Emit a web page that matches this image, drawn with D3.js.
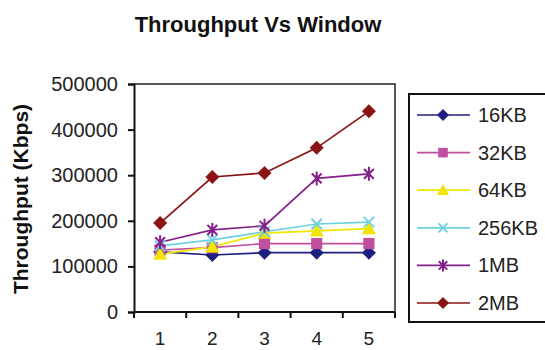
<!DOCTYPE html>
<html>
<head>
<meta charset="utf-8">
<script src="https://cdn.jsdelivr.net/npm/d3@7/dist/d3.min.js"></script>
<style>
  html, body { margin: 0; padding: 0; background: #fff; }
  svg { display: block; font-family: "Liberation Sans", Arial, sans-serif; }
</style>
</head>
<body>
<svg id="chart" width="545" height="350"></svg>
<script>
// Window sizes on the x axis
const windows = ["1", "2", "3", "4", "5"];
// Throughput (Kbps) for each buffer size
const kb16  = [132000, 125000, 130000, 130000, 130000];
const kb32  = [136000, 141000, 150000, 150000, 150000];
const kb64  = [127000, 143000, 173000, 178000, 183000];
const kb256 = [145000, 158000, 176000, 193000, 197000];
const mb1   = [153000, 180000, 189000, 293000, 303000];
const mb2   = [195000, 296000, 305000, 360000, 440000];
const seriesNames = ["16KB", "32KB", "64KB", "256KB", "1MB", "2MB"];
const yTicks = [0, 100000, 200000, 300000, 400000, 500000];

const seriesValues = [kb16, kb32, kb64, kb256, mb1, mb2];
const colors = ["#1f1f7f", "#c04fa0", "#f2e600", "#6cd0e0", "#84208a", "#8a1414"];
const markers = ["diamond", "square", "triangle", "cross", "star", "diamond"];

const svg = d3.select("#chart");

const x = d3.scaleBand().domain(windows).range([134, 395]);
const y = d3.scaleLinear().domain([0, 500000]).range([312, 84]);

// Title
svg.append("text")
  .attr("x", 258).attr("y", 32)
  .attr("text-anchor", "middle")
  .attr("font-size", 22).attr("font-weight", "bold")
  .attr("fill", "#111")
  .text("Throughput Vs Window");

// Y axis title
svg.append("text")
  .attr("transform", "translate(28,199) rotate(-90)")
  .attr("text-anchor", "middle")
  .attr("font-size", 21).attr("font-weight", "bold")
  .attr("fill", "#111")
  .text("Throughput (Kbps)");

// Plot frame (top and right)
svg.append("path")
  .attr("d", `M${x.range()[0]},${y(500000)}H${x.range()[1]}V${y(0)}`)
  .attr("fill", "none").attr("stroke", "#222").attr("stroke-width", 1.5);

// Y axis
const yAxis = svg.append("g")
  .attr("transform", `translate(${x.range()[0]},0)`)
  .call(d3.axisLeft(y).tickValues(yTicks).tickFormat(d3.format("d")).tickSize(6).tickPadding(10));
yAxis.select(".domain").attr("stroke", "#111").attr("stroke-width", 2);
yAxis.selectAll(".tick line").attr("stroke", "#111").attr("stroke-width", 2);
yAxis.selectAll("text").attr("font-size", 20).attr("fill", "#222")
  .attr("font-family", "Liberation Sans, Arial, sans-serif");

// X axis with ticks between categories
const xAxis = svg.append("g").attr("transform", `translate(0,${y(0)})`);
xAxis.append("line")
  .attr("x1", x.range()[0]).attr("x2", x.range()[1])
  .attr("stroke", "#111").attr("stroke-width", 2);
const boundaries = windows.map(d => x(d)).concat([x.range()[1]]);
xAxis.selectAll("line.tk").data(boundaries).join("line")
  .attr("class", "tk")
  .attr("x1", d => d).attr("x2", d => d)
  .attr("y1", 0).attr("y2", 6)
  .attr("stroke", "#111").attr("stroke-width", 2);
xAxis.selectAll("text").data(windows).join("text")
  .attr("x", d => x(d) + x.bandwidth() / 2)
  .attr("y", 33)
  .attr("text-anchor", "middle")
  .attr("font-size", 19).attr("fill", "#222")
  .text(d => d);

// Marker drawing
function drawMarker(g, type, color, s) {
  if (type === "diamond") {
    g.append("path").attr("d", `M0,${-s}L${s},0L0,${s}L${-s},0Z`).attr("fill", color);
  } else if (type === "square") {
    const h = s * 0.8;
    g.append("rect").attr("x", -h).attr("y", -h).attr("width", 2 * h).attr("height", 2 * h).attr("fill", color);
  } else if (type === "triangle") {
    g.append("path").attr("d", `M0,${-s}L${s},${s * 0.8}L${-s},${s * 0.8}Z`).attr("fill", color);
  } else if (type === "cross") {
    const h = s * 0.75;
    g.append("path").attr("d", `M${-h},${-h}L${h},${h}M${-h},${h}L${h},${-h}`)
      .attr("stroke", color).attr("stroke-width", 1.8).attr("fill", "none");
  } else if (type === "star") {
    const h = s * 0.7;
    g.append("path").attr("d", `M${-h},${-h}L${h},${h}M${-h},${h}L${h},${-h}M0,${-s}L0,${s}`)
      .attr("stroke", color).attr("stroke-width", 2).attr("fill", "none");
  }
}

const line = d3.line()
  .x((d, i) => x(windows[i]) + x.bandwidth() / 2)
  .y(d => y(d));

const plot = svg.append("g");
seriesValues.forEach((vals, si) => {
  plot.append("path")
    .datum(vals)
    .attr("d", line)
    .attr("fill", "none")
    .attr("stroke", colors[si])
    .attr("stroke-width", 1.7);
});
seriesValues.forEach((vals, si) => {
  vals.forEach((v, i) => {
    const g = plot.append("g")
      .attr("transform", `translate(${x(windows[i]) + x.bandwidth() / 2},${y(v)})`);
    drawMarker(g, markers[si], colors[si], 7);
  });
});

// Legend
const legend = svg.append("g");
legend.append("rect")
  .attr("x", 409).attr("y", 94).attr("width", 160).attr("height", 228)
  .attr("fill", "#fff").attr("stroke", "#111").attr("stroke-width", 2);
const legY = d3.scalePoint().domain(seriesNames).range([115, 303]);
seriesNames.forEach((name, si) => {
  const cy = legY(name);
  legend.append("line")
    .attr("x1", 417).attr("x2", 470).attr("y1", cy).attr("y2", cy)
    .attr("stroke", colors[si]).attr("stroke-width", 1.7);
  const g = legend.append("g").attr("transform", `translate(443,${cy})`);
  drawMarker(g, markers[si], colors[si], 6);
  legend.append("text")
    .attr("x", 478).attr("y", cy + 7)
    .attr("font-size", 20).attr("fill", "#222")
    .text(name);
});
</script>
</body>
</html>
